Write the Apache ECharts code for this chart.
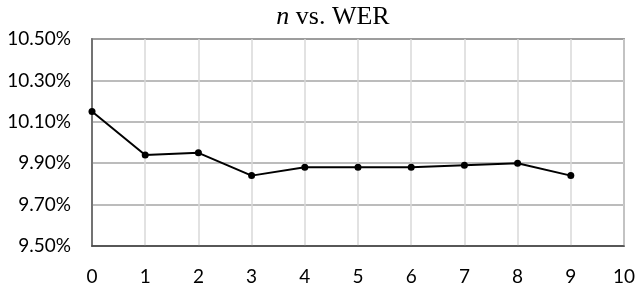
<!DOCTYPE html>
<html><head><meta charset="utf-8">
<script src="https://cdn.jsdelivr.net/npm/echarts@6/dist/echarts.min.js"></script>
<style>html,body{margin:0;padding:0;background:#fff}#c{width:640px;height:284px}</style>
</head><body><div id="c"></div>
<script>
const xValues = [0, 1, 2, 3, 4, 5, 6, 7, 8, 9];
const werValues = [10.15, 9.94, 9.95, 9.84, 9.88, 9.88, 9.88, 9.89, 9.90, 9.84];
const yTicks = [9.5, 9.7, 9.9, 10.1, 10.3, 10.5];

const chart = echarts.init(document.getElementById('c'), null, {renderer: 'canvas'});
chart.setOption({
  animation: false,
  backgroundColor: '#fff',
  title: {
    text: '{i|n} vs. WER',
    left: 328, top: -1, textAlign: 'center',
    textStyle: {
      rich: {
        i: {fontFamily: 'Liberation Serif', fontSize: 26, fontStyle: 'italic', color: '#000'}
      },
      fontFamily: 'Liberation Serif', fontSize: 26, fontWeight: 'normal', color: '#000'
    }
  },
  grid: {left: 92, right: 16, top: 39, bottom: 38, containLabel: false, outerBoundsMode: 'none',
    show: true, borderColor: '#595959', borderWidth: 1.5},
  xAxis: {
    type: 'value', min: 0, max: 10, interval: 1,
    axisLine: {show: true, lineStyle: {color: '#404040', width: 1.5}},
    axisTick: {show: false},
    splitLine: {show: true, lineStyle: {color: '#d9d9d9', width: 1.5}},
    axisLabel: {color: '#000', fontFamily: 'Lato', fontSize: 19, margin: 21}
  },
  yAxis: {
    type: 'value', min: 9.5, max: 10.5, interval: 0.2,
    axisLine: {show: true, lineStyle: {color: '#595959', width: 1.5}},
    axisTick: {show: false},
    splitLine: {show: true, lineStyle: {color: '#a6a6a6', width: 1.5}},
    axisLabel: {color: '#000', fontFamily: 'Lato', fontSize: 19, margin: 21,
      formatter: v => v.toFixed(2) + '%'}
  },
  series: [{
    type: 'line',
    data: xValues.map((x, i) => [x, werValues[i]]),
    symbol: 'circle', symbolSize: 7,
    itemStyle: {color: '#000'},
    lineStyle: {color: '#000', width: 2}
  }]
});
</script></body></html>
